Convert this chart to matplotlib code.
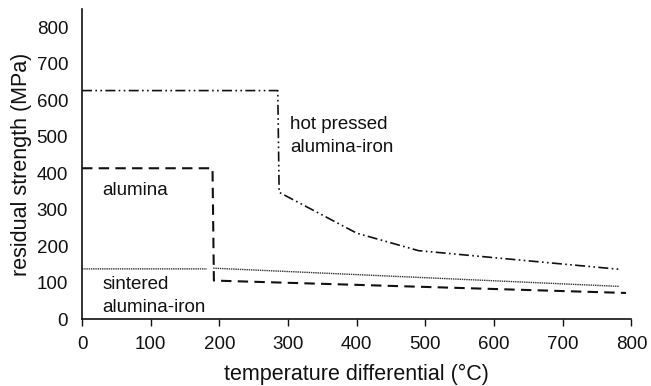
import numpy as np
import matplotlib
matplotlib.use('Agg')
import matplotlib.pyplot as plt

plt.rcParams['font.family'] = ['Liberation Sans', 'DejaVu Sans']

# data
hot_x = [0, 285, 287, 400, 490, 782]
hot_y = [627, 627, 348, 236, 188, 137]

alumina_x = [0, 190, 192, 792]
alumina_y = [414, 414, 106, 72]

sintered_x = [0, 182, np.nan, 191, 782]
sintered_y = [138, 138, np.nan, 140, 90]

xticks = [0, 100, 200, 300, 400, 500, 600, 700, 800]
yticks = [0, 100, 200, 300, 400, 500, 600, 700, 800]

fig = plt.figure(figsize=(6.51, 3.86), dpi=100)
ax = fig.add_axes([0.126, 0.173, 0.844, 0.803])

col = '#111111'
ax.plot(hot_x, hot_y, color=col, lw=1.2, linestyle=(0, (6, 2, 1, 2, 1, 2)))
ax.plot(alumina_x, alumina_y, color=col, lw=1.5, linestyle=(0, (5, 3)))
ax.plot(sintered_x, sintered_y, color='#333333', lw=1.0, linestyle=(0, (1, 0.6)))

fs = 13.5
ax.text(30, 354, 'alumina', fontsize=fs, va='center', color=col)
ax.text(30, 96, 'sintered', fontsize=fs, va='center', color=col)
ax.text(30, 33, 'alumina-iron', fontsize=fs, va='center', color=col)
ax.text(303, 533, 'hot pressed', fontsize=fs, va='center', color=col)
ax.text(303, 472, 'alumina-iron', fontsize=fs, va='center', color=col)

ax.set_xlim(0, 800)
ax.set_ylim(0, 850)
ax.set_xticks(xticks)
ax.set_yticks(yticks)
ax.tick_params(axis='x', direction='out', length=5, width=1, labelsize=13.5, pad=7, colors=col)
ax.tick_params(axis='y', length=0, labelsize=13.5, pad=10, colors=col)
for s in ['top', 'right']:
    ax.spines[s].set_visible(False)
for s in ['left', 'bottom']:
    ax.spines[s].set_linewidth(1.2)
    ax.spines[s].set_color(col)

ax.set_xlabel('temperature differential (°C)', fontsize=15.5, color=col, labelpad=8)
ax.set_ylabel('residual strength (MPa)', fontsize=15.5, color=col, labelpad=3)

fig.savefig('out.png', dpi=100)
